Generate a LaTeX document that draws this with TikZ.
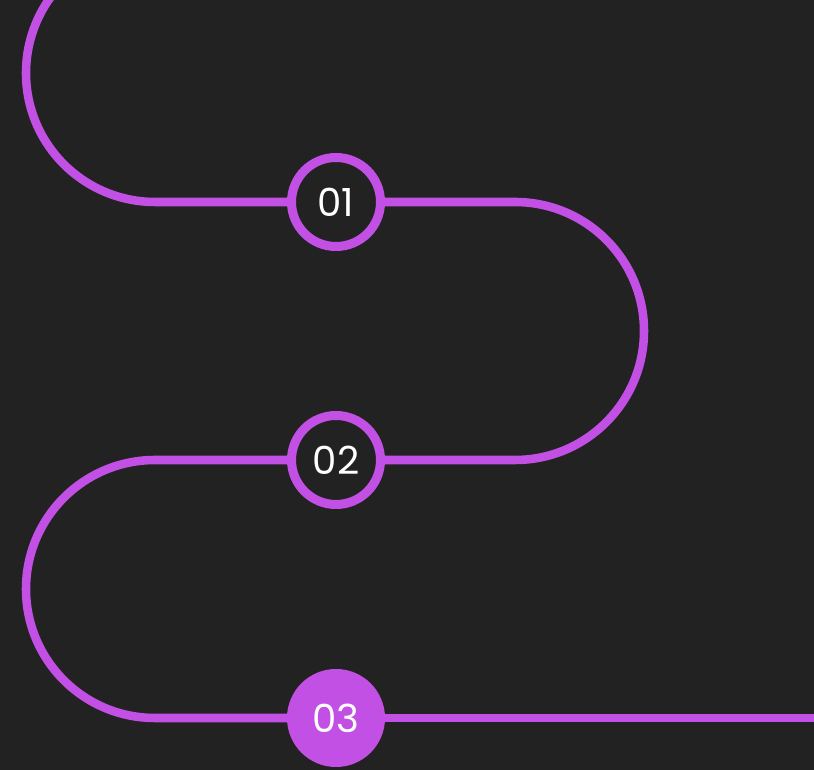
\documentclass[tikz,border=0pt]{standalone}
\usepackage{fontspec}
\setmainfont{Poppins}
\usetikzlibrary{positioning, calc}
\definecolor{bgdark}{HTML}{232223}
\definecolor{violet}{HTML}{C350E5}
\tikzstyle{track} = [draw=violet, line width=6.4pt]
\tikzstyle{stepnode} = [circle, draw=violet, fill=bgdark, line width=6.75pt,
	minimum size=66.75pt, inner sep=0pt, text=white, font=\fontsize{29}{29}\selectfont]
\tikzstyle{stepdone} = [stepnode, fill=violet]

\begin{document}
\begin{tikzpicture}[x=0.75pt, y=0.75pt]
		%Background
		\fill [bgdark] (0,0) rectangle (814,770);
		\useasboundingbox (0,0) rectangle (814,770);
		
		%Place node
		\node [stepnode] (s1) at (336,568) {01};
		\node [stepnode] (s2) at (336,310) {02};
		\node [stepdone] (s3) at (336,52) {03};
		\coordinate (start) at ($(155,697)+(130:129)$);
		\coordinate (finish) at (814,52);
		
		%Draw edges
		\draw [track] (start) arc [start angle=130, end angle=270, radius=129] -- (s1.west);
		\draw [track] (s1.east) -- (515,568) arc [start angle=90, end angle=-90, radius=129] -- (s2.east);
		\draw [track] (s2.west) -- (155,310) arc [start angle=90, end angle=270, radius=129] -- (s3.west);
		\draw [track] (s3.east) -- (finish);
		
	\end{tikzpicture}
\end{document}
